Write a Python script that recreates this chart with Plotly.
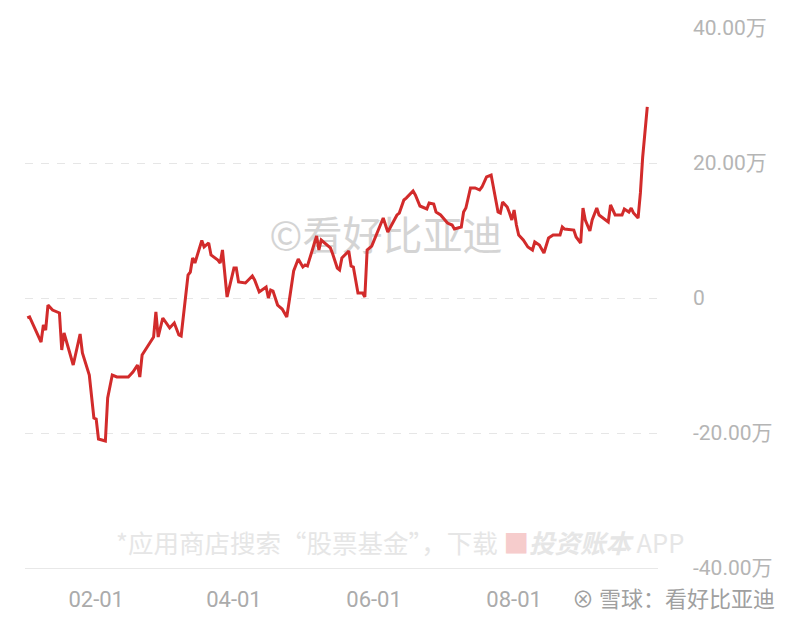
import plotly.graph_objects as go

dates = [
    "2024-01-02", "2024-01-03", "2024-01-08", "2024-01-09", "2024-01-10", "2024-01-11",
    "2024-01-13", "2024-01-16", "2024-01-17", "2024-01-18", "2024-01-22", "2024-01-25",
    "2024-01-26", "2024-01-29", "2024-01-31", "2024-02-01", "2024-02-02", "2024-02-05",
    "2024-02-06", "2024-02-08", "2024-02-10", "2024-02-15", "2024-02-17", "2024-02-19",
    "2024-02-20", "2024-02-21", "2024-02-26", "2024-02-27", "2024-02-28", "2024-03-01",
    "2024-03-04", "2024-03-06", "2024-03-08", "2024-03-09", "2024-03-12", "2024-03-13",
    "2024-03-14", "2024-03-15", "2024-03-18", "2024-03-19", "2024-03-21", "2024-03-22",
    "2024-03-25", "2024-03-26", "2024-03-27", "2024-03-28", "2024-03-29", "2024-04-01",
    "2024-04-02", "2024-04-03", "2024-04-06", "2024-04-09", "2024-04-10", "2024-04-12",
    "2024-04-15", "2024-04-16", "2024-04-17", "2024-04-18", "2024-04-20", "2024-04-22",
    "2024-04-24", "2024-04-25", "2024-04-27", "2024-04-29", "2024-05-01", "2024-05-02",
    "2024-05-03", "2024-05-07", "2024-05-08", "2024-05-09", "2024-05-13", "2024-05-14",
    "2024-05-16", "2024-05-17", "2024-05-18", "2024-05-21", "2024-05-22", "2024-05-23",
    "2024-05-25", "2024-05-27", "2024-05-28", "2024-05-29", "2024-05-31", "2024-06-05",
    "2024-06-07", "2024-06-11", "2024-06-12", "2024-06-14", "2024-06-15", "2024-06-18",
    "2024-06-19", "2024-06-21", "2024-06-24", "2024-06-25", "2024-06-27", "2024-06-28",
    "2024-06-30", "2024-07-03", "2024-07-05", "2024-07-06", "2024-07-09", "2024-07-10",
    "2024-07-11", "2024-07-13", "2024-07-15", "2024-07-17", "2024-07-18", "2024-07-20",
    "2024-07-22", "2024-07-25", "2024-07-26", "2024-07-27", "2024-07-29", "2024-07-30",
    "2024-07-31", "2024-08-01", "2024-08-02", "2024-08-03", "2024-08-05", "2024-08-07",
    "2024-08-09", "2024-08-10", "2024-08-12", "2024-08-14", "2024-08-16", "2024-08-18",
    "2024-08-21", "2024-08-22", "2024-08-23", "2024-08-27", "2024-08-28", "2024-08-30",
    "2024-08-31", "2024-09-01", "2024-09-03", "2024-09-04", "2024-09-06", "2024-09-07",
    "2024-09-10", "2024-09-11", "2024-09-12", "2024-09-14", "2024-09-17", "2024-09-18",
    "2024-09-20", "2024-09-21", "2024-09-22", "2024-09-24", "2024-09-25", "2024-09-26",
    "2024-09-28",
]

# profit, in units of 万 (10,000)
profit = [
    -2.96, -2.81, -6.52, -4.00, -4.74, -1.04,
    -1.78, -2.22, -7.70, -5.19, -9.93, -5.33,
    -8.15, -11.41, -17.78, -17.93, -20.89, -21.19,
    -14.81, -11.41, -11.70, -11.70, -10.96, -9.93,
    -11.70, -8.44, -5.78, -2.07, -5.78, -2.96,
    -4.44, -3.70, -5.48, -5.63, 3.41, 3.85,
    5.93, 5.19, 8.52, 7.56, 8.15, 6.37,
    5.63, 5.19, 7.11, 2.96, 0.15, 4.44,
    4.44, 2.37, 2.22, 3.26, 2.67, 0.89,
    1.63, 0.00, 1.19, 1.04, -1.04, -1.63,
    -2.81, -0.59, 4.00, 5.78, 4.59, 4.89,
    4.74, 9.19, 7.11, 8.59, 7.41, 6.52,
    4.44, 4.15, 5.93, 6.96, 4.74, 4.59,
    0.74, 0.74, 0.15, 7.11, 7.70, 11.85,
    9.78, 12.30, 12.59, 14.52, 14.81, 15.85,
    15.26, 13.63, 13.19, 14.07, 13.93, 12.74,
    12.30, 11.11, 10.81, 10.22, 10.52, 12.74,
    13.33, 16.30, 16.30, 16.00, 16.44, 17.93,
    18.22, 12.74, 12.59, 14.22, 13.48, 12.59,
    11.56, 13.04, 10.81, 9.33, 8.59, 7.56,
    7.11, 8.30, 7.85, 6.67, 8.89, 9.33,
    9.33, 10.52, 10.22, 10.07, 9.04, 8.15,
    13.33, 11.56, 9.93, 11.56, 13.33, 12.30,
    11.56, 11.26, 13.78, 12.30, 12.30, 13.19,
    12.74, 13.33, 12.59, 11.85, 15.56, 20.89,
    28.30,
]

y_tickvals = [-40, -20, 0, 20, 40]
y_ticktext = ["-40.00万", "-20.00万", "0", "20.00万", "40.00万"]
x_tickvals = ["2024-02-01", "2024-04-01", "2024-06-01", "2024-08-01"]
x_ticktext = ["02-01", "04-01", "06-01", "08-01"]

watermark = "©看好比亚迪"
promo = ("*应用商店搜索“股票基金”，下载 "
         "<span style='color:#f6cccc'>■</span>"
         "<b><i>投资账本</i></b> APP")
credit = "⊗ 雪球：看好比亚迪"

FONT = "Roboto, 'Noto Sans CJK SC', sans-serif"
CJK = "'Noto Sans CJK SC', Roboto, sans-serif"

fig = go.Figure()

# watermark drawn beneath the line
fig.add_trace(go.Scatter(
    x=["2024-06-06 05:00"], y=[8.6], mode="text", text=[watermark],
    textfont=dict(family=CJK, size=40, color="#d4d4d4"),
    hoverinfo="skip", showlegend=False,
))

fig.add_trace(go.Scatter(
    x=dates, y=profit, mode="lines",
    line=dict(color="#d22b2b", width=3),
    showlegend=False,
))

fig.update_layout(
    width=784, height=606,
    margin=dict(l=17, r=134, t=20, b=46, autoexpand=False),
    paper_bgcolor="white", plot_bgcolor="white",
    font=dict(family=FONT, color="#b5b5b5"),
    xaxis=dict(
        type="date", automargin=False,
        range=["2024-01-01", "2024-10-02 16:00"],
        tickvals=x_tickvals, ticktext=x_ticktext,
        tickfont=dict(size=22, color="#ababab"),
        showgrid=False, zeroline=False,
        showline=True, linecolor="#e8e8e8", linewidth=1,
        ticks="", ticklabelstandoff=12,
    ),
    yaxis=dict(
        range=[-40, 40], side="right", automargin=False,
        tickvals=y_tickvals, ticktext=y_ticktext,
        tickfont=dict(size=21, color="#b5b5b5"),
        showgrid=True, gridcolor="#e6e6e6", gridwidth=1, griddash="8px,8px",
        zeroline=False, showline=False, ticks="",
        ticklabelstandoff=34,
    ),
    annotations=[
        dict(xref="paper", yref="paper", x=(400 - 25) / 633, y=(568 - 541) / 540,
             text=promo, showarrow=False, xanchor="center", yanchor="middle",
             font=dict(family=CJK, size=25.5, color="#e6e6e6")),
        dict(xref="paper", yref="paper", x=(776 - 25) / 633, y=(568 - 597) / 540,
             text=credit, showarrow=False, xanchor="right", yanchor="middle",
             borderpad=0,
             font=dict(family=CJK, size=22, color="#a0a0a0")),
    ],
)

fig.write_html("out.html")
